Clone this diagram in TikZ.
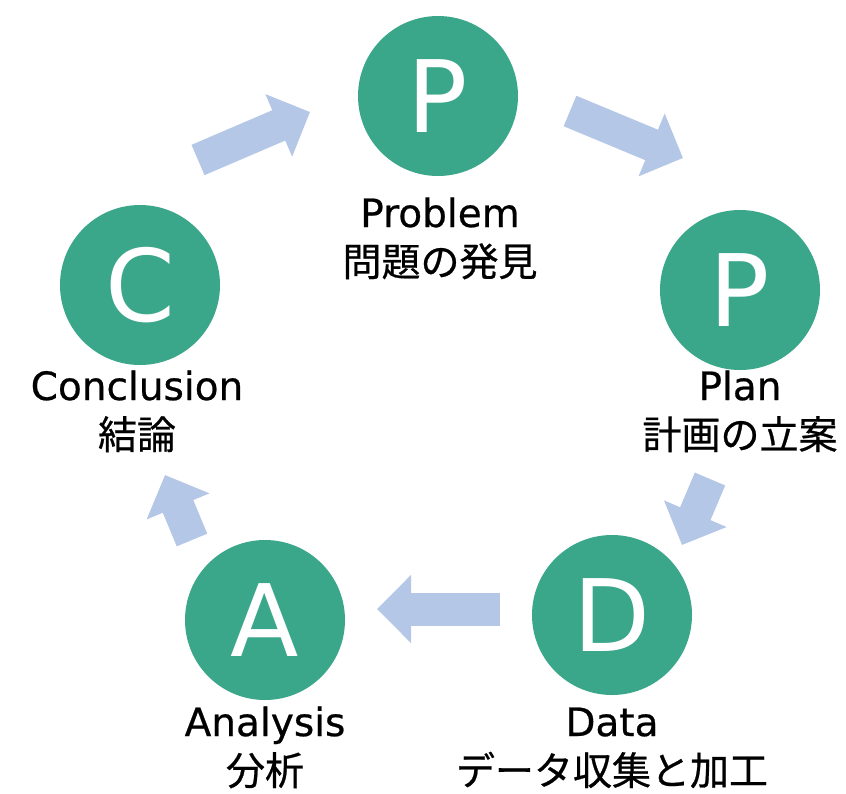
\documentclass[tikz,border=0pt]{standalone}
\usepackage{fontspec}
\setmainfont{Noto Sans CJK JP}[FakeBold=0.6]
\newfontfamily\latinfont{DejaVu Sans}[FakeBold=0.6]
\newfontfamily\letterfont{DejaVu Sans}
\usepackage{xcolor}
\usetikzlibrary{arrows.meta,positioning}
\definecolor{stepgreen}{HTML}{3AA68A}
\definecolor{arrowblue}{HTML}{B4C7E7}
\newcommand{\captwo}[2]{{\latinfont #1}\\#2}
\tikzset{
	x=1pt, y=-1pt,
	stage/.style = {
			circle,
			fill            = stepgreen,
			minimum size    = 160pt,
			inner sep       = 0pt,
			text            = white,
			font            = \letterfont\fontsize{100}{100}\selectfont,
		},
	caption/.style = {
			align           = center,
			anchor          = base,
			inner sep       = 0pt,
			font            = \fontsize{39}{49}\selectfont,
		},
	blockarrow/.style = {
			draw            = arrowblue,
			line width      = 33pt,
			line cap        = butt,
			-{Triangle[width=66pt,length=34pt]},
		},
}

\begin{document}
\begin{tikzpicture}
		\useasboundingbox (0,0) rectangle (846,793);

		\node[stage] at (438,96) (problem) {P};
		\node[stage] at (740,290) (plan) {P};
		\node[stage] at (612,615) (data) {D};
		\node[stage] at (265,620) (analysis) {A};
		\node[stage] at (140,285) (conclusion) {C};

		% base anchor sits on the second (Japanese) line
		\node[caption] at (440,276) (problemtext) {\captwo{Problem}{問題の発見}};
		\node[caption] at (740,449) (plantext) {\captwo{Plan}{計画の立案}};
		\node[caption] at (612,785) (datatext) {\captwo{Data}{データ収集と加工}};
		\node[caption] at (265,785) (analysistext) {\captwo{Analysis}{分析}};
		\node[caption] at (137,449) (conclusiontext) {\captwo{Conclusion}{結論}};

		\coordinate (cp) at (198,160);
		\coordinate (pc) at (310,112);
		\coordinate (pp) at (570,111);
		\coordinate (pl) at (683,158);
		\coordinate (ld) at (710,479);
		\coordinate (dl) at (682,545);
		\coordinate (da) at (500,609);
		\coordinate (ad) at (377,609);
		\coordinate (ac) at (192,540);
		\coordinate (ca) at (165,475);

		\draw[blockarrow] (cp) -- (pc);
		\draw[blockarrow] (pp) -- (pl);
		\draw[blockarrow] (ld) -- (dl);
		\draw[blockarrow] (da) -- (ad);
		\draw[blockarrow] (ac) -- (ca);
	\end{tikzpicture}
\end{document}
